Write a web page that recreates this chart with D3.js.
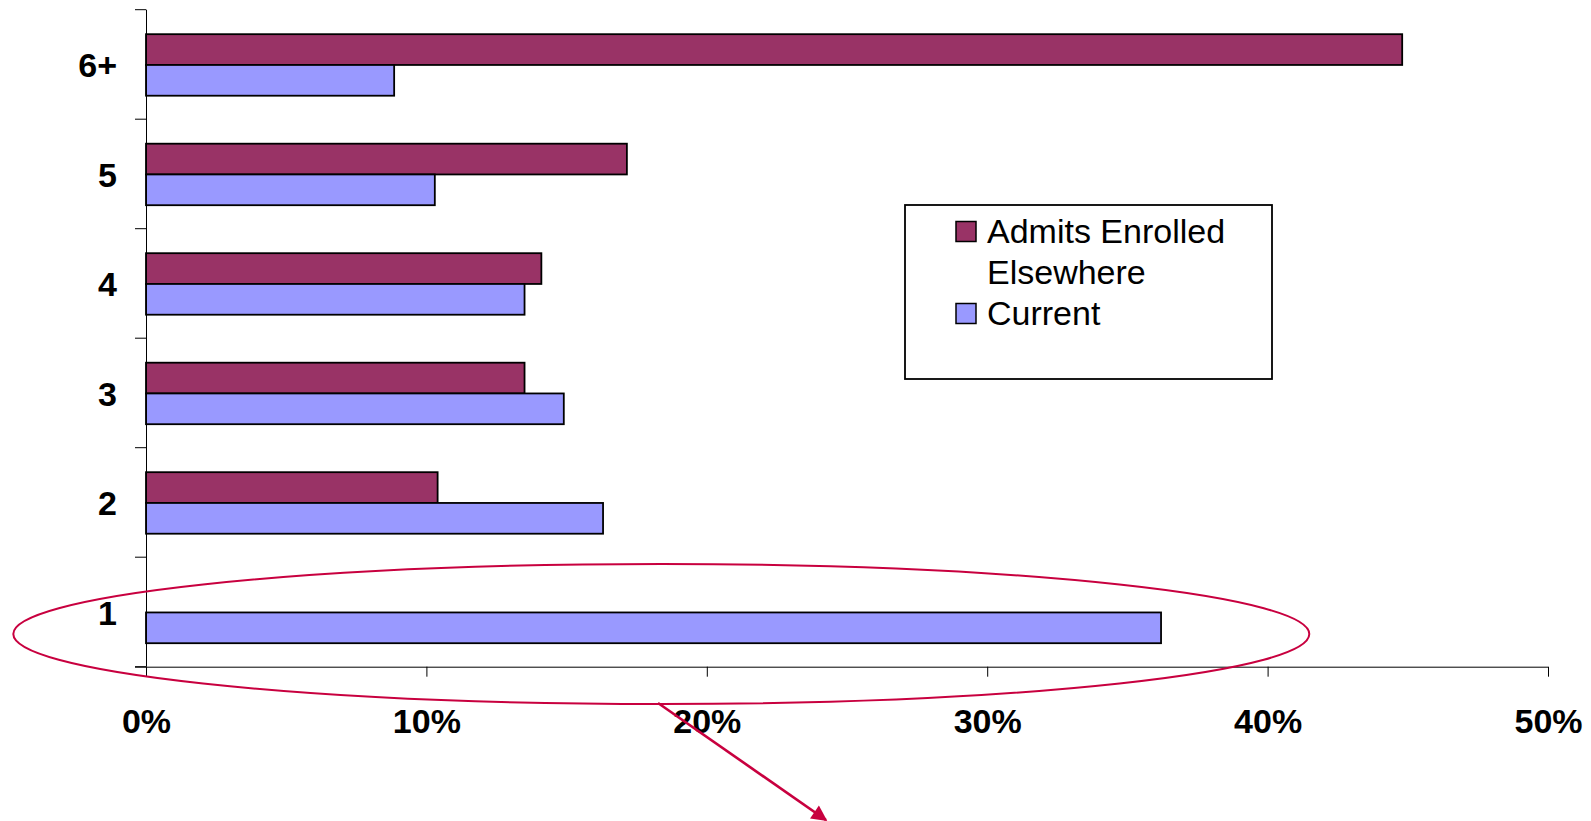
<!DOCTYPE html>
<html>
<head>
<meta charset="utf-8">
<script src="https://cdn.jsdelivr.net/npm/d3@7"></script>
<style>
  body { margin: 0; background: #fff; }
  svg { display: block; font-family: "Liberation Sans", Arial, sans-serif; }
  .bar { stroke: #000; stroke-width: 1.8; }
  .axis path, .axis line { stroke: #000; }
</style>
</head>
<body>
<svg id="vis" width="1591" height="821"></svg>
<script>
// categories top to bottom
const categories = ["6+", "5", "4", "3", "2", "1"];
const series = ["Admits Enrolled Elsewhere", "Current"];
const admitsElsewhere = [44.8, 17.15, 14.1, 13.5, 10.4, 0];
const current = [8.85, 10.3, 13.5, 14.9, 16.3, 36.2];
const xTicks = [0, 10, 20, 30, 40, 50];

const colors = { "Admits Enrolled Elsewhere": "#993366", "Current": "#9999FF" };

const svg = d3.select("svg#vis");

const plot = {left: 146, right: 1548, top: 9.7, bottom: 666.7};

const x = d3.scaleLinear().domain([0, 50]).range([plot.left, plot.right]);
const y = d3.scaleBand().domain(categories).range([plot.top, plot.bottom]);
const y1 = d3.scaleBand().domain(series).range([0, y.bandwidth()]).paddingOuter(0.78);

// build table for the bars
const rows = [];
categories.forEach(function(c, i) {
  rows.push({cat: c, s: series[0], value: admitsElsewhere[i]});
  rows.push({cat: c, s: series[1], value: current[i]});
});

svg.append("g").selectAll("rect")
  .data(rows.filter(d => d.value > 0))
  .enter()
  .append("rect")
  .attr("class", "bar")
  .attr("x", x(0))
  .attr("y", d => y(d.cat) + y1(d.s) + 0.5)
  .attr("width", d => x(d.value) - x(0))
  .attr("height", y1.bandwidth())
  .attr("fill", d => colors[d.s]);

// x axis
const xAxis = svg.append("g")
  .attr("class", "axis")
  .attr("transform", "translate(0," + plot.bottom + ")")
  .call(d3.axisBottom(x).tickValues(xTicks).tickFormat(d => d + "%").tickSize(10).tickPadding(32).tickSizeOuter(0));
xAxis.select(".domain").attr("d", "M" + (plot.left - 11) + ",0.5H" + plot.right);
xAxis.selectAll("text")
  .attr("fill", "#000")
  .style("font-size", "34px")
  .style("font-weight", "bold")
  .style("font-family", "'Liberation Sans', Arial, sans-serif");

// y axis (line + labels), ticks at band boundaries
const yAxis = svg.append("g")
  .attr("class", "axis")
  .attr("transform", "translate(" + plot.left + ",0)")
  .call(d3.axisLeft(y).tickSize(0).tickPadding(29));
yAxis.select(".domain").attr("d", "M0.5," + plot.top + "V" + plot.bottom);
yAxis.selectAll("text")
  .attr("fill", "#000")
  .attr("dy", "0.38em")
  .style("font-size", "34px")
  .style("font-weight", "bold")
  .style("font-family", "'Liberation Sans', Arial, sans-serif");

const bounds = categories.map(c => y(c)).concat([plot.bottom]);
svg.append("g").selectAll("line")
  .data(bounds)
  .enter()
  .append("line")
  .attr("x1", plot.left - 11)
  .attr("x2", plot.left)
  .attr("y1", d => d)
  .attr("y2", d => d)
  .attr("stroke", "#000");

// legend
const legend = svg.append("g");
legend.append("rect")
  .attr("x", 905).attr("y", 205)
  .attr("width", 367).attr("height", 174)
  .attr("fill", "#fff").attr("stroke", "#000").attr("stroke-width", 1.8);

const legendItems = [
  {s: series[0], lines: ["Admits Enrolled", "Elsewhere"], y: 243},
  {s: series[1], lines: ["Current"], y: 325}
];
legendItems.forEach(function(it) {
  legend.append("rect")
    .attr("x", 956).attr("y", it.y - 21.5)
    .attr("width", 20).attr("height", 20)
    .attr("fill", colors[it.s]).attr("stroke", "#000").attr("stroke-width", 1.5);
  const t = legend.append("text")
    .attr("x", 987).attr("y", it.y)
    .style("font-size", "34px")
    .attr("fill", "#000");
  it.lines.forEach(function(l, i) {
    t.append("tspan").attr("x", 987).attr("dy", i === 0 ? 0 : 41).text(l);
  });
});

// annotation: ellipse around category 1 and arrow
const red = "#C8003F";
svg.append("ellipse")
  .attr("cx", 661.3).attr("cy", 634)
  .attr("rx", 648).attr("ry", 70)
  .attr("fill", "none").attr("stroke", red).attr("stroke-width", 2);

svg.append("defs").append("marker")
  .attr("id", "head")
  .attr("viewBox", "0 0 10 10")
  .attr("refX", 9).attr("refY", 5)
  .attr("markerWidth", 7).attr("markerHeight", 6)
  .attr("markerUnits", "strokeWidth")
  .attr("orient", "auto")
  .append("path")
  .attr("d", "M0,0L10,5L0,10Z")
  .attr("fill", red);

svg.append("line")
  .attr("x1", 658).attr("y1", 703)
  .attr("x2", 826).attr("y2", 820)
  .attr("stroke", red).attr("stroke-width", 2.6)
  .attr("marker-end", "url(#head)");
</script>
</body>
</html>
